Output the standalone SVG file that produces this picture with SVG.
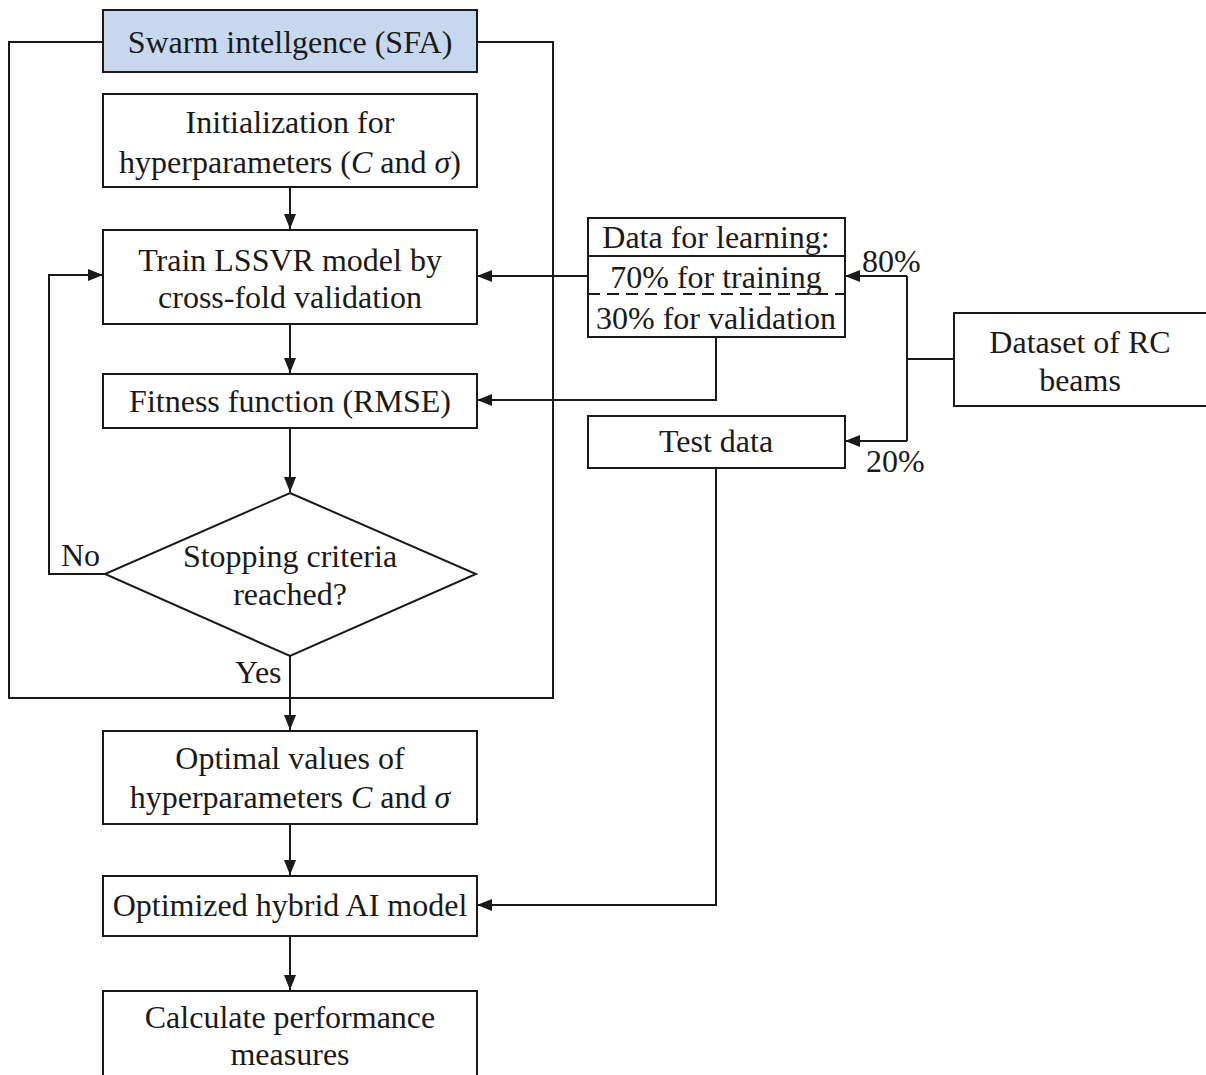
<svg xmlns="http://www.w3.org/2000/svg" width="1206" height="1075" viewBox="0 0 1206 1075">
<style>
.box{fill:#ffffff;stroke:#1a1a1a;stroke-width:2}
.blue{fill:#c6d7ee;stroke:#1a1a1a;stroke-width:2}
.ln{fill:none;stroke:#1a1a1a;stroke-width:2}
.dash{fill:none;stroke:#1a1a1a;stroke-width:2;stroke-dasharray:12 7}
text{font-family:"Liberation Serif","Times New Roman",serif;font-size:32px;fill:#1a1a1a;text-anchor:middle}
.l{text-anchor:start}
.i{font-style:italic}
</style>
<defs>
<marker id="ah" viewBox="0 0 15 12" refX="15" refY="6" markerWidth="15" markerHeight="12" markerUnits="userSpaceOnUse" orient="auto">
<path d="M0,0 L15,6 L0,12 z" fill="#1a1a1a"/>
</marker>
</defs>

<g id="connectors">
<path class="ln" d="M103,42 H9 V698 H553 V42 H477"/>
<path class="ln" d="M290,187 V229" marker-end="url(#ah)"/>
<path class="ln" d="M290,324 V373" marker-end="url(#ah)"/>
<path class="ln" d="M290,428 V492" marker-end="url(#ah)"/>
<path class="ln" d="M105,574 H49 V275 H103" marker-end="url(#ah)"/>
<path class="ln" d="M290,656 V730" marker-end="url(#ah)"/>
<path class="ln" d="M290,824 V875" marker-end="url(#ah)"/>
<path class="ln" d="M290,936 V990" marker-end="url(#ah)"/>
<path class="ln" d="M588,276 H477" marker-end="url(#ah)"/>
<path class="ln" d="M716,337 V400 H477" marker-end="url(#ah)"/>
<path class="ln" d="M716,468 V905 H477" marker-end="url(#ah)"/>
<path class="ln" d="M954,359 H907"/>
<path class="ln" d="M907,276 V441"/>
<path class="ln" d="M907,276 H845" marker-end="url(#ah)"/>
<path class="ln" d="M907,441 H845" marker-end="url(#ah)"/>
<text x="61" y="566" class="l">No</text>
<text x="235" y="683" class="l">Yes</text>
<text x="862" y="272" class="l">80%</text>
<text x="866" y="472" class="l">20%</text>
</g>

<g id="swarm">
<rect class="blue" x="103" y="10" width="374" height="62"/>
<text x="290" y="53">Swarm intellgence (SFA)</text>
</g>

<g id="init">
<rect class="box" x="103" y="94" width="374" height="93"/>
<text x="290" y="133">Initialization for</text>
<text x="290" y="173">hyperparameters (<tspan class="i">C</tspan> and <tspan class="i">σ</tspan>)</text>
</g>

<g id="train">
<rect class="box" x="103" y="230" width="374" height="94"/>
<text x="290" y="271">Train LSSVR model by</text>
<text x="290" y="308">cross-fold validation</text>
</g>

<g id="fitness">
<rect class="box" x="103" y="374" width="374" height="54"/>
<text x="290" y="412">Fitness function (RMSE)</text>
</g>

<g id="decision">
<polygon class="box" points="290,493 476,574 290,656 105,574"/>
<text x="290" y="567">Stopping criteria</text>
<text x="290" y="605">reached?</text>
</g>

<g id="optimal">
<rect class="box" x="103" y="731" width="374" height="93"/>
<text x="290" y="769">Optimal values of</text>
<text x="290" y="808">hyperparameters <tspan class="i">C</tspan> and <tspan class="i">σ</tspan></text>
</g>

<g id="optimized">
<rect class="box" x="103" y="876" width="374" height="60"/>
<text x="290" y="916">Optimized hybrid AI model</text>
</g>

<g id="calculate">
<rect class="box" x="103" y="991" width="374" height="100"/>
<text x="290" y="1028">Calculate performance</text>
<text x="290" y="1065">measures</text>
</g>

<g id="data">
<rect class="box" x="588" y="218" width="257" height="119"/>
<path class="ln" d="M588,256 H845"/>
<path class="dash" d="M588,294 H845"/>
<text x="716" y="248">Data for learning:</text>
<text x="716" y="288">70% for training</text>
<text x="716" y="329">30% for validation</text>
</g>

<g id="test">
<rect class="box" x="588" y="416" width="257" height="52"/>
<text x="716" y="452">Test data</text>
</g>

<g id="dataset">
<rect class="box" x="954" y="313" width="260" height="93"/>
<text x="1080" y="353">Dataset of RC</text>
<text x="1080" y="391">beams</text>
</g>
</svg>
